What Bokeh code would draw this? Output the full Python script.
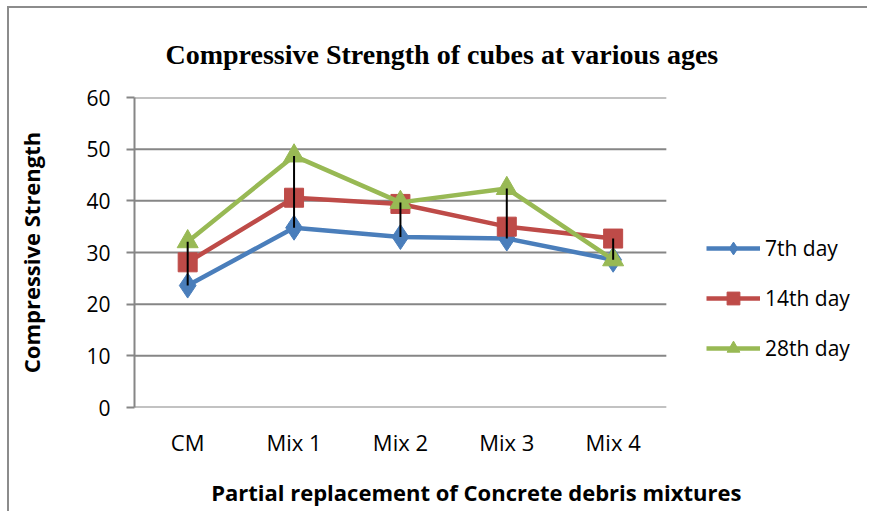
import numpy as np
from bokeh.plotting import figure
from bokeh.models import Range1d, Legend, LegendItem, FixedTicker, ColumnDataSource
from bokeh.embed import file_html
from bokeh.resources import INLINE

categories = ["CM", "Mix 1", "Mix 2", "Mix 3", "Mix 4"]
day7 = [23.6, 34.8, 33.0, 32.7, 28.6]
day14 = [28.1, 40.6, 39.4, 35.0, 32.7]
day28 = [32.1, 48.7, 39.7, 42.4, 28.6]
series_names = ["7th day", "14th day", "28th day"]
y_ticks = [0, 10, 20, 30, 40, 50, 60]

title_text = "Compressive Strength of cubes  at various ages"
x_label = "Partial replacement of Concrete debris mixtures"
y_label = "Compressive Strength"

BLUE = "#4A7EBB"
RED = "#BE4B48"
GREEN = "#98B954"
GRID = "#868686"

xpos = list(range(len(categories)))
n = len(categories)

p = figure(
    x_range=Range1d(-0.5, 6.41),
    y_range=Range1d(0, 60),
    width=860, height=505,
    min_border_left=125, min_border_right=0,
    min_border_top=83, min_border_bottom=106,
    output_backend="svg", toolbar_location=None,
    background_fill_color="white", border_fill_color="white",
    margin=(6, 0, 0, 7),
    styles={"border-left": "2px solid #8c8c8c", "border-top": "2px solid #8c8c8c"},
)
p.outline_line_color = None
p.xgrid.grid_line_color = None
p.ygrid.grid_line_color = None
p.yaxis.ticker = FixedTicker(ticks=y_ticks)
p.xaxis.ticker = FixedTicker(ticks=xpos)
p.xaxis.major_label_overrides = {i: c for i, c in zip(xpos, categories)}

# horizontal gridlines limited to the category span
p.segment(x0=[-0.5] * len(y_ticks), x1=[n - 0.5] * len(y_ticks), y0=y_ticks, y1=y_ticks,
          line_color=GRID, line_width=2)

for ax in (p.xaxis, p.yaxis):
    ax.major_label_text_font = "Open Sans"
    ax.major_label_text_color = "black"
    ax.minor_tick_line_color = None

p.xaxis.axis_line_color = None
p.yaxis.axis_line_color = GRID
p.yaxis.axis_line_width = 2
p.xaxis.major_label_text_font_size = "22px"
p.yaxis.major_label_text_font_size = "21px"
p.xaxis.major_tick_line_color = None
p.xaxis.major_label_standoff = 13
p.yaxis.major_tick_line_color = GRID
p.yaxis.major_tick_line_width = 2
p.yaxis.major_tick_out = 8
p.yaxis.major_tick_in = 0
p.yaxis.major_label_standoff = 16

p.yaxis.axis_label = y_label
p.yaxis.axis_label_text_font = "Open Sans"
p.yaxis.axis_label_text_font_style = "bold"
p.yaxis.axis_label_text_font_size = "22px"
p.yaxis.axis_label_text_color = "black"
p.yaxis.axis_label_standoff = 37

p.xaxis.axis_label = x_label + "\u00a0" * 9
p.xaxis.axis_label_text_font = "Open Sans"
p.xaxis.axis_label_text_font_style = "bold"
p.xaxis.axis_label_text_font_size = "22px"
p.xaxis.axis_label_text_color = "black"
p.xaxis.axis_label_standoff = 17

# series
cols = [BLUE, RED, GREEN]
vals = [day7, day14, day28]
markers = [("diamond", 25), ("square", 19), ("triangle", 21)]
items = []
for name, v, c, (mk, sz) in zip(series_names, vals, cols, markers):
    src = ColumnDataSource(dict(x=xpos, y=v))
    r1 = p.line("x", "y", source=src, line_color=c, line_width=4.5)
    r2 = p.scatter("x", "y", source=src, marker=mk, size=sz,
                   fill_color=c, line_color=c)
    items.append(LegendItem(label=name, renderers=[r1, r2]))

# high-low lines
hi = [max(a, b, c) for a, b, c in zip(day7, day14, day28)]
lo = [min(a, b, c) for a, b, c in zip(day7, day14, day28)]
p.segment(x0=xpos, y0=lo, x1=xpos, y1=hi, line_color="black", line_width=2)

legend = Legend(items=items, location=(572, 43), orientation="vertical",
                glyph_width=54, glyph_height=32, spacing=18, label_standoff=5,
                padding=0, margin=0, border_line_color=None, background_fill_alpha=0,
                label_text_font="Open Sans", label_text_font_size="21px",
                label_text_color="black")
p.add_layout(legend, "center")

p.title.text = title_text
p.title.align = "left"
p.title.offset = 31
p.title.standoff = 56
p.title.text_font = "Liberation Serif"
p.title.text_font_style = "bold"
p.title.text_font_size = "28px"
p.title.text_color = "black"

open("out.html", "w").write(file_html(p, INLINE))
